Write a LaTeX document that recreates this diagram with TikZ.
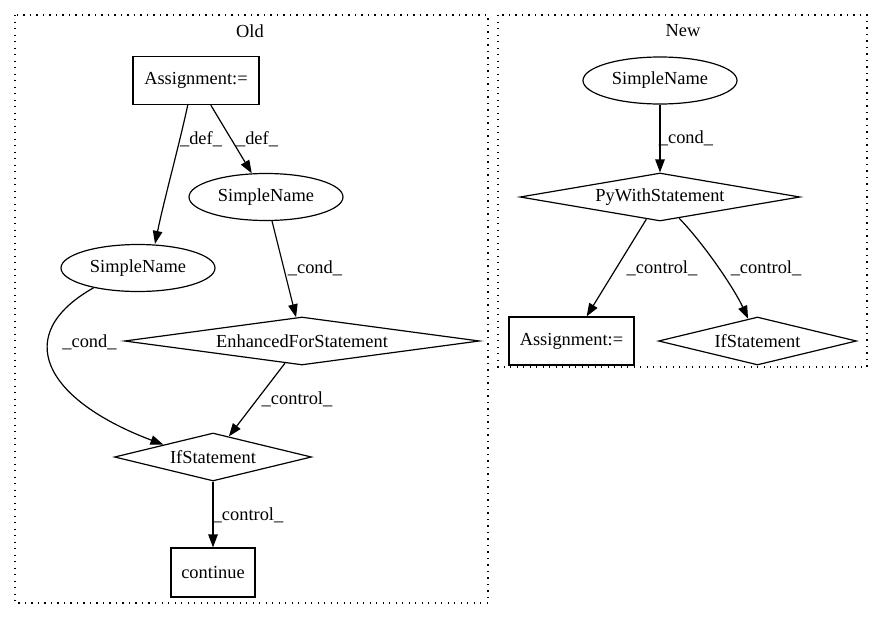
\documentclass[tikz,border=0pt]{standalone}
\usepackage{fontspec}
\setmainfont{Liberation Serif}
\usetikzlibrary{shapes.geometric,arrows.meta}
\begin{document}
\begin{tikzpicture}[x=1pt,y=-1pt,
  every node/.style={font=\fontsize{18.4}{22}\selectfont},
  cluster/.style={draw, line width=1.2pt, dash pattern=on 1.3pt off 5.2pt},
  boxnode/.style={draw, line width=1.2pt, rectangle, inner sep=0pt, minimum height=48pt},
  ellnode/.style={draw, line width=1.2pt, ellipse, inner sep=0pt, minimum width=154pt, minimum height=47pt},
  dianode/.style={draw, line width=1.2pt, diamond, inner sep=0pt, minimum height=48pt},
  edge/.style={draw, line width=1.2pt, -{Triangle[length=13pt,width=9.5pt]}},
  elabel/.style={inner sep=0pt}
]
\useasboundingbox (0,0) rectangle (883,624);
% clusters
\draw[cluster] (15,15) rectangle (488,603);
\draw[cluster] (498,15) rectangle (867,367);
\node[elabel] (oldlbl) at (250,31) {Old};
\node[elabel] (newlbl) at (683,31) {New};
% Old nodes
\node[boxnode, minimum width=126pt] (aold) at (196,80.5) {Assignment:=};
\node[ellnode] (sr) at (266,197) {SimpleName};
\node[ellnode] (sl) at (138,268) {SimpleName};
\node[dianode, minimum width=355pt, shape aspect=7.4] (efs) at (302,341) {EnhancedForStatement};
\node[dianode, minimum width=197pt, shape aspect=4.1] (ifo) at (213,457) {IfStatement};
\node[boxnode, minimum width=84pt, minimum height=49pt] (cont) at (213,572.5) {continue};
% New nodes
\node[ellnode] (nsn) at (660,80.5) {SimpleName};
\node[dianode, minimum width=280pt, shape aspect=5.83] (pyw) at (660,197) {PyWithStatement};
\node[boxnode, minimum width=125pt] (nasg) at (571.5,341) {Assignment:=};
\node[dianode, minimum width=198pt, shape aspect=4.125] (nif) at (757.5,341) {IfStatement};
% Old edges
\coordinate (adefl) at (188,104);
\draw[edge] (adefl) .. controls (178,150) and (164,200) .. ([xshift=17pt]sl.north);
\draw[edge] (aold) -- (sr);
\draw[edge] (sr) -- (efs);
\draw[edge] (sl.-156) .. controls (10,335) and (45,400) .. (ifo.north west);
\draw[edge] (efs) -- (ifo);
\draw[edge] (ifo) -- (cont);
\node[elabel] (l1) at (201,139) {\_def\_};
\node[elabel] (l2) at (257,139) {\_def\_};
\node[elabel] (l3) at (315,268) {\_cond\_};
\node[elabel] (l4) at (89.5,342) {\_cond\_};
\node[elabel] (l5) at (297,399) {\_control\_};
\node[elabel] (l6) at (248,515) {\_control\_};
% New edges
\draw[edge] (nsn) -- (pyw);
\draw[edge] (pyw) -- (nasg);
\draw[edge] (pyw.-48) .. controls (705,245) and (735,290) .. (nif.113);
\node[elabel] (l7) at (686,138) {\_cond\_};
\node[elabel] (l8) at (662,268) {\_control\_};
\node[elabel] (l9) at (766,268) {\_control\_};
\end{tikzpicture}
\end{document}
